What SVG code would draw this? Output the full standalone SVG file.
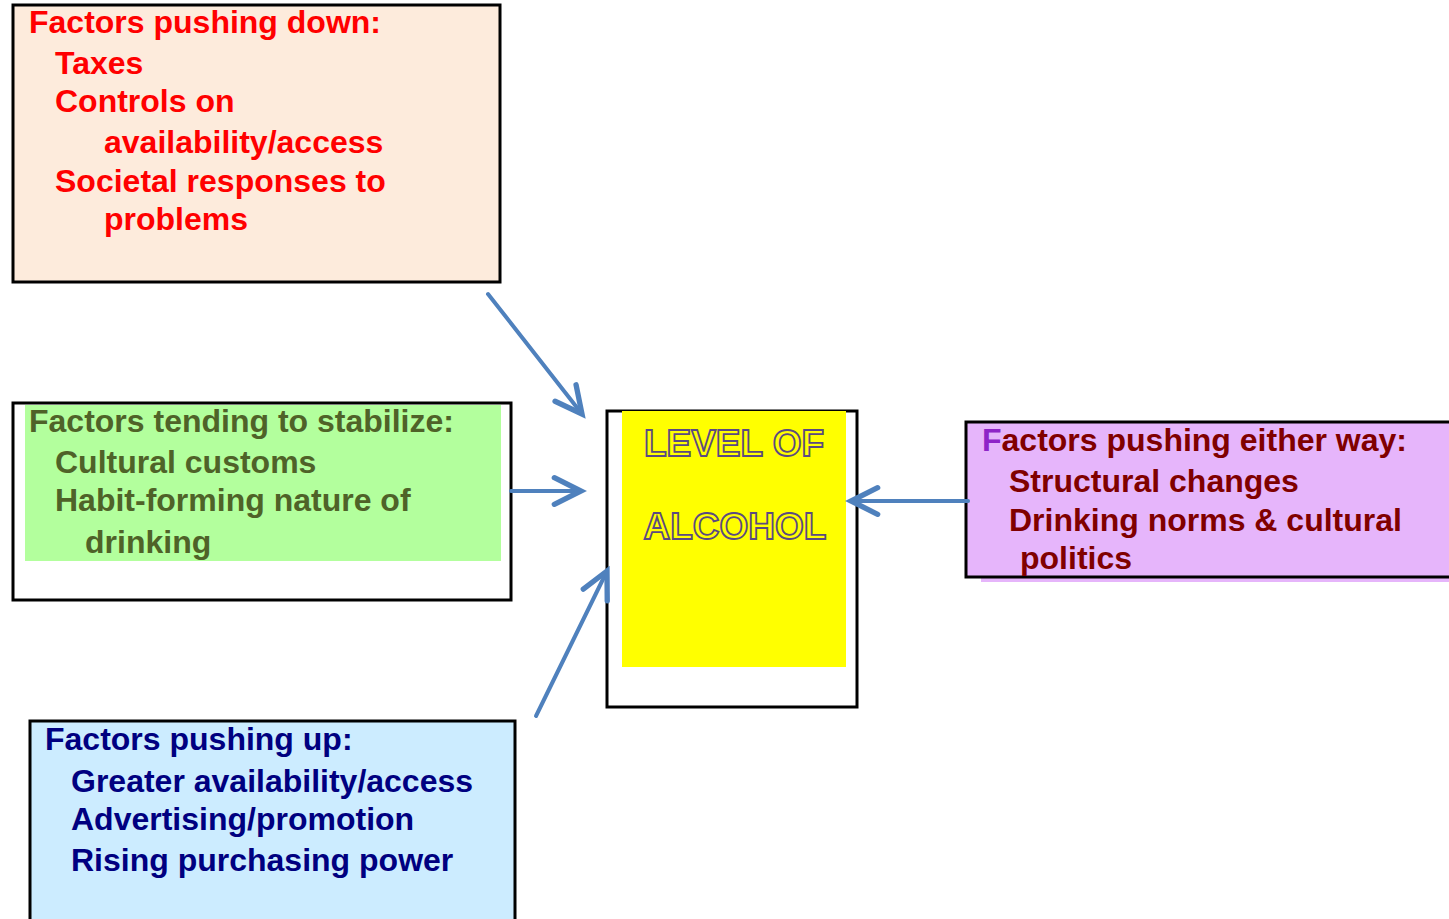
<svg xmlns="http://www.w3.org/2000/svg" width="1449" height="919" viewBox="0 0 1449 919">
<style>
text{font-family:"Liberation Sans",Arial,sans-serif;font-weight:bold;font-size:32px}
.box{stroke:#000;stroke-width:3}
.red{fill:#FF0000}
.grn{fill:#4F6228}
.drd{fill:#800000}
.nav{fill:#000080}
.outl{font-size:37px;fill:#FFFF00;stroke:#5B4A80;stroke-width:1.8;text-anchor:middle}
.conn{stroke:#4F81BD;stroke-width:4;fill:none;stroke-linecap:round}
</style>
<defs>
<marker id="ah" markerUnits="userSpaceOnUse" orient="auto" markerWidth="40" markerHeight="40" refX="0" refY="0" viewBox="-25 -15 30 30" overflow="visible">
<path d="M-20,-10 L0,0 L-20,10" fill="none" stroke="#4F81BD" stroke-width="4" stroke-linecap="round" stroke-linejoin="miter"/>
</marker>
</defs>
<rect width="1449" height="919" fill="#fff"/>
<g id="down">
<rect class="box" x="13" y="5" width="487" height="277" fill="#FDEBDC"/>
<text class="red" x="29" y="33">Factors pushing down:</text>
<text class="red" x="55" y="74">Taxes</text>
<text class="red" x="55" y="112">Controls on</text>
<text class="red" x="104" y="153">availability/access</text>
<text class="red" x="55" y="192">Societal responses to</text>
<text class="red" x="104" y="230">problems</text>
</g>
<g id="stabilize">
<rect class="box" x="13" y="403" width="498" height="197" fill="#fff"/>
<rect x="25" y="405" width="476" height="156" fill="#B3FF9D"/>
<text class="grn" x="29" y="432">Factors tending to stabilize:</text>
<text class="grn" x="55" y="473">Cultural customs</text>
<text class="grn" x="55" y="511">Habit-forming nature of</text>
<text class="grn" x="85" y="553">drinking</text>
</g>
<g id="level">
<rect class="box" x="607" y="411" width="250" height="296" fill="#fff"/>
<rect x="622" y="411" width="224" height="256" fill="#FFFF00"/>
<text class="outl" x="734" y="456">LEVEL OF</text>
<text class="outl" x="735" y="539">ALCOHOL</text>
</g>
<g id="either">
<rect x="981" y="424" width="470" height="158" fill="#E6B5FB"/>
<rect class="box" x="966" y="422" width="490" height="155" fill="#E6B5FB"/>
<text class="drd" x="982" y="451"><tspan fill="#8E24C7">F</tspan>actors pushing either way:</text>
<text class="drd" x="1009" y="492">Structural changes</text>
<text class="drd" x="1009" y="531">Drinking norms &amp; cultural</text>
<text class="drd" x="1020" y="569">politics</text>
</g>
<g id="up">
<rect class="box" x="30" y="721" width="485" height="210" fill="#CCECFF"/>
<text class="nav" x="45" y="750">Factors pushing up:</text>
<text class="nav" x="71" y="792">Greater availability/access</text>
<text class="nav" x="71" y="830">Advertising/promotion</text>
<text class="nav" x="71" y="871">Rising purchasing power</text>
</g>
<g id="connectors">
<line class="conn" x1="488" y1="294" x2="582" y2="414" marker-end="url(#ah)"/>
<line class="conn" x1="511" y1="491" x2="581" y2="491" marker-end="url(#ah)"/>
<line class="conn" x1="536" y1="716" x2="607" y2="571" marker-end="url(#ah)"/>
<line class="conn" x1="968" y1="501" x2="851" y2="501" marker-end="url(#ah)"/>
</g>
</svg>
